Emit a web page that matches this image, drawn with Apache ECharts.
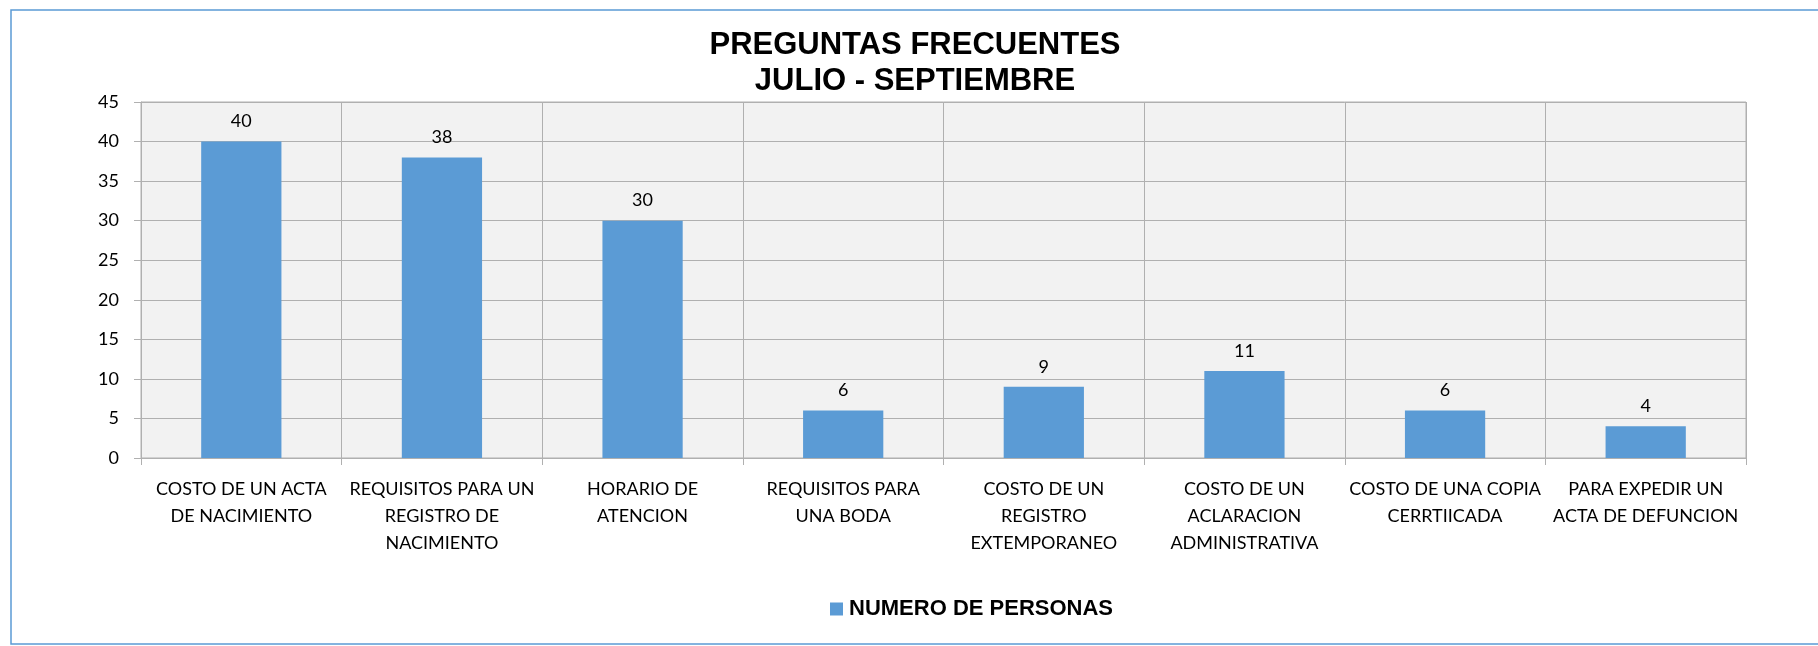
<!DOCTYPE html>
<html>
<head>
<meta charset="utf-8">
<script src="https://cdn.jsdelivr.net/npm/echarts@6/dist/echarts.min.js"></script>
<style>
  html, body { margin: 0; padding: 0; background: #fff; }
  #main { width: 1818px; height: 646px; }
</style>
</head>
<body>
<div id="main"></div>
<script>
// datos
var categorias = [
  'COSTO DE UN ACTA\nDE NACIMIENTO',
  'REQUISITOS PARA UN\nREGISTRO DE\nNACIMIENTO',
  'HORARIO DE\nATENCION',
  'REQUISITOS PARA\nUNA BODA',
  'COSTO DE UN\nREGISTRO\nEXTEMPORANEO',
  'COSTO DE UN\nACLARACION\nADMINISTRATIVA',
  'COSTO DE UNA COPIA\nCERRTIICADA',
  'PARA EXPEDIR UN\nACTA DE DEFUNCION'
];
var personas = [40, 38, 30, 6, 9, 11, 6, 4];
var serieNombre = 'NUMERO DE PERSONAS';
var titulo = 'PREGUNTAS FRECUENTES\nJULIO - SEPTIEMBRE';

var chart = echarts.init(document.getElementById('main'), null, { renderer: 'canvas' });

var gris = '#b0b0b0';
var azul = '#5b9bd5';

var option = {
  animation: false,
  textStyle: { fontFamily: 'Lato' },
  graphic: [{
    type: 'rect',
    shape: { x: 11, y: 10, width: 1830, height: 634 },
    style: { fill: 'none', stroke: azul, lineWidth: 1.5 },
    silent: true
  }],
  title: {
    text: titulo,
    left: 915,
    textAlign: 'center',
    top: 27,
    padding: 0,
    textStyle: {
      fontFamily: 'Liberation Sans',
      fontWeight: 'bold',
      fontSize: 31,
      lineHeight: 36,
      color: '#000'
    }
  },
  legend: {
    data: [serieNombre],
    left: 830,
    top: 598,
    padding: 0,
    itemWidth: 13,
    itemHeight: 13,
    icon: 'rect',
    textStyle: {
      fontFamily: 'Liberation Sans',
      fontWeight: 'bold',
      fontSize: 22,
      color: '#000',
      padding: [0, 0, 0, 1]
    }
  },
  grid: {
    left: 141,
    right: 72,
    top: 102,
    bottom: 188,
    show: true,
    backgroundColor: '#f2f2f2',
    borderColor: gris,
    borderWidth: 1
  },
  xAxis: {
    type: 'category',
    data: categorias,
    boundaryGap: true,
    axisLine: { lineStyle: { color: gris, width: 1 } },
    axisTick: { show: true, length: 7, lineStyle: { color: gris } },
    splitLine: { show: true, lineStyle: { color: gris, width: 1 } },
    axisLabel: {
      interval: 0,
      margin: 18,
      fontSize: 18,
      lineHeight: 27,
      color: '#000'
    }
  },
  yAxis: {
    type: 'value',
    min: 0,
    max: 45,
    interval: 5,
    axisLine: { show: true, lineStyle: { color: gris } },
    axisTick: { show: true, length: 7, lineStyle: { color: gris } },
    splitLine: { show: true, lineStyle: { color: gris, width: 1 } },
    axisLabel: {
      margin: 22,
      fontSize: 18,
      color: '#000'
    }
  },
  series: [{
    name: serieNombre,
    type: 'bar',
    data: personas,
    barWidth: '40%',
    itemStyle: { color: azul },
    label: {
      show: true,
      position: 'top',
      distance: 11,
      fontSize: 18,
      color: '#000'
    }
  }]
};

chart.setOption(option);
</script>
</body>
</html>
